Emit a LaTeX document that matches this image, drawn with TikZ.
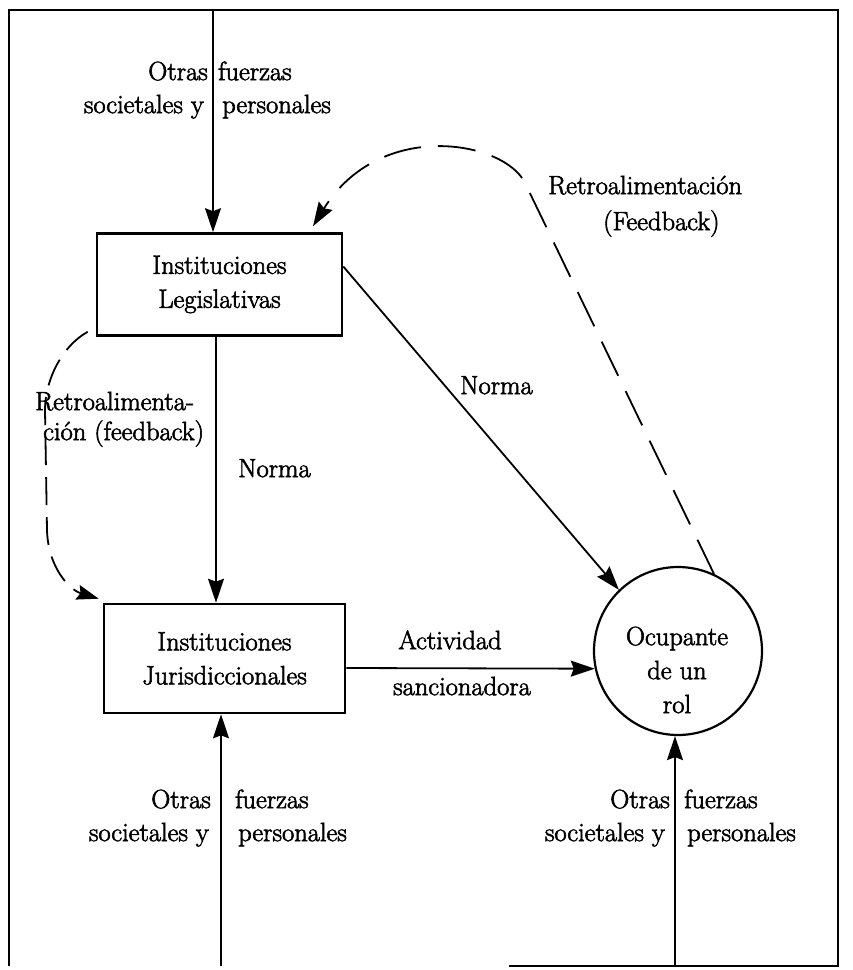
\documentclass[tikz,border=0pt]{standalone}
\usepackage{fontspec}
\setmainfont{Latin Modern Roman}[UprightFeatures={FakeBold=2.2}]
\usetikzlibrary{arrows.meta}
\begin{document}
\begin{tikzpicture}[x=1pt,y=-1pt,
  font=\fontsize{26.5}{34}\selectfont,
  inst/.style={draw,line width=2.6pt,rectangle,inner sep=0pt,align=center},
  lbl/.style={inner sep=0pt},
  conn/.style={line width=1.8pt,-{Stealth[length=24pt,width=16pt,inset=3pt]}},
  fb/.style={line width=1.8pt,dash pattern=on 38pt off 17pt,-{Stealth[length=24pt,width=16pt,inset=3pt]}},
  fbl/.style={line width=1.8pt,dash pattern=on 28pt off 12pt,-{Stealth[length=22pt,width=15pt,inset=3pt]}}]
\useasboundingbox (0,0) rectangle (853,970);
% frame
\draw[line width=2.2pt] (509,966) -- (838,966) -- (838,10) -- (9,10) -- (9,966);
% nodes
\node[inst,minimum width=245pt,minimum height=102pt] (b1) at (219.5,284.5) {Instituciones\\Legislativas};
\node[inst,minimum width=241pt,minimum height=109pt] (b2) at (224.5,658.5) {Instituciones\\Jurisdiccionales};
\node[draw,circle,line width=2.2pt,minimum size=168pt,inner sep=0pt] (rol) at (678,651) {};
\node[lbl,align=center] (roltext) at (677,670) {Ocupante\\de un\\rol};
% free ends
\coordinate (t1) at (213,10);
\coordinate (bl) at (221,966);
\coordinate (br) at (675,966);
\coordinate (fbk) at (525,183);
% connectors
\draw[conn] (t1) -- (t1 |- b1.north);
\draw[conn] ([xshift=-3.5pt]b1.south) -- ([xshift=-3.5pt]b1.south |- b2.north);
\draw[conn] ([yshift=18pt]b1.east) -- (rol.134);
\draw[conn] ([yshift=-9.5pt]b2.east) -- (rol.192);
\draw[conn] (bl) -- (bl |- b2.south);
\draw[conn] (br) -- (br |- rol.south);
\draw[fb] (rol.65) -- (fbk) .. controls (505,141) and (380,118) .. ([xshift=93.5pt,yshift=6pt]b1.north);
\draw[fbl] ([xshift=-8pt,yshift=5pt]b1.south west) .. controls (62,346) and (45,380) .. (45,410) -- (47,530) .. controls (48,568) and (70,590) .. ([xshift=-4pt,yshift=4pt]b2.north west);
% labels top
\node[lbl,anchor=mid east] (ot1) at (208,78) {Otras};
\node[lbl,anchor=mid west] (fu1) at (218,78) {fuerzas};
\node[lbl,anchor=mid east] (so1) at (204,111) {societales y};
\node[lbl,anchor=mid west] (pe1) at (222,111) {personales};
% labels bottom left
\node[lbl,anchor=mid east] (ot2) at (211,806) {Otras};
\node[lbl,anchor=mid west] (fu2) at (235,806) {fuerzas};
\node[lbl,anchor=mid east] (so2) at (209,839) {societales y};
\node[lbl,anchor=mid west] (pe2) at (238,839) {personales};
% labels bottom right
\node[lbl,anchor=mid east] (ot3) at (670,806) {Otras};
\node[lbl,anchor=mid west] (fu3) at (684,806) {fuerzas};
\node[lbl,anchor=mid east] (so3) at (665,839) {societales y};
\node[lbl,anchor=mid west] (pe3) at (687,839) {personales};
% other labels
\node[lbl,anchor=mid west] (n1) at (238,475) {Norma};
\node[lbl,anchor=mid west] (n2) at (460,392) {Norma};
\node[lbl,anchor=mid west] (r1) at (548,192) {Retroalimentación};
\node[lbl,anchor=mid west] (r2) at (603,228) {(Feedback)};
\node[lbl,anchor=mid west] (r3) at (35,408) {Retroalimenta-};
\node[lbl,anchor=mid west] (r4) at (43,438) {ción (feedback)};
\node[lbl,anchor=mid] (a1) at (450,647) {Actividad};
\node[lbl,anchor=mid] (a2) at (462,693) {sancionadora};
\end{tikzpicture}
\end{document}
